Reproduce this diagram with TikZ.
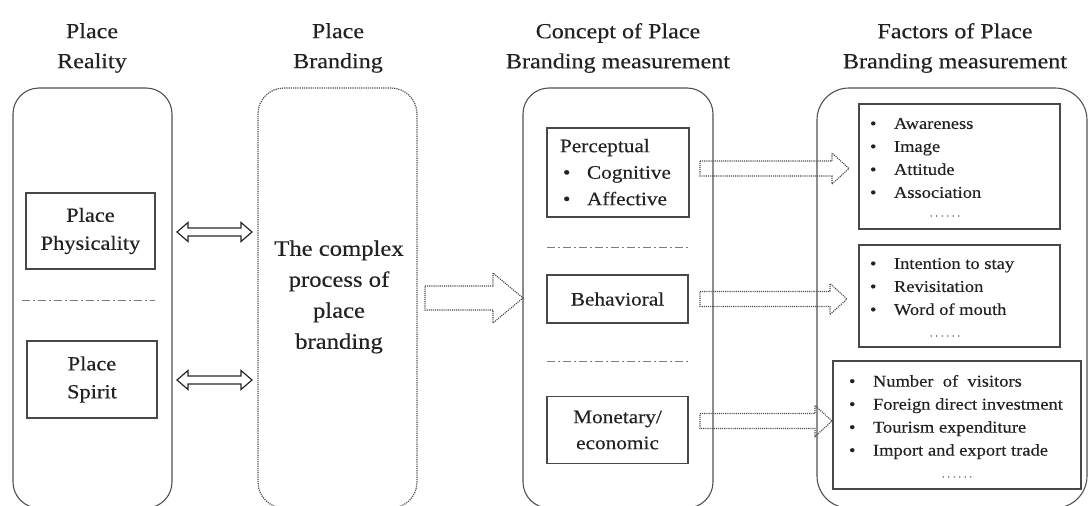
\documentclass[tikz,border=0pt]{standalone}
\usepackage{fontspec}
\setmainfont{Liberation Serif}[FakeStretch=1.12,FakeBold=0.35]
\usetikzlibrary{calc,arrows.meta}
\definecolor{ln}{HTML}{505050}
\definecolor{tx}{HTML}{222222}
\tikzset{
  x=1pt,y=-1pt,
  every node/.style={text=tx,inner sep=0pt,outer sep=0pt},
  bigbox/.style={draw=ln,line width=1.1pt,rounded corners=26pt,minimum width=#1,minimum height=420},
  inbox/.style={draw=ln!90!black,line width=1.2pt,minimum width=#1},
  ttl/.style={align=center,font=\fontsize{21.5}{30}\selectfont},
  sep/.style={draw=ln!75,line width=0.9pt,dash pattern=on 8pt off 3pt on 2pt off 3pt},
  dblarrow/.style={draw=black!85,line width=1.2pt,line join=miter},
  dotarrow/.style={draw=ln!90!black,line width=1.1pt,densely dotted},
  lst/.style={align=left,font=\fontsize{16.5}{23}\selectfont},
  dts/.style={font=\fontsize{9}{9}\selectfont,text=ln},
}
\newcommand{\bl}{\makebox[24pt][l]{\textbullet}}
\newcommand{\sdots}{.\,\,.\,\,.\,\,.\,\,.\,\,.}
\begin{document}
\begin{tikzpicture}
\useasboundingbox (0,0) rectangle (1088,506);
% titles
\node[ttl] (t1) at (92,48) {Place\\Reality};
\node[ttl] (t2) at (338,48) {Place\\Branding};
\node[ttl] (t3) at (618,48) {Concept of Place\\Branding measurement};
\node[ttl] (t4) at (955,48) {Factors of Place\\Branding measurement};
% big boxes
\node[bigbox=159] (pr) at (92.5,298) {};
\node[bigbox=159,draw=ln,line width=1.2pt,densely dotted] (pb) at (337.5,298) {};
\node[bigbox=190] (cp) at (618,298) {};
\node[bigbox=270,rounded corners=32pt] (fa) at (952,298) {};
% place reality inner
\node[inbox=129,minimum height=76,align=center,font=\fontsize{20}{28}\selectfont] (phys) at (90.5,231) {Place\\Physicality};
\draw[sep] (22,300) -- (155,300);
\node[inbox=130,minimum height=77,align=center,font=\fontsize{20}{28}\selectfont] (spirit) at (92,379.5) {Place\\Spirit};
% place branding text
\node[align=center,font=\fontsize{22}{31}\selectfont] (cpx) at (339,297) {The complex\\process of\\place\\branding};
% double block arrows
\newcommand{\dblock}[5]{% start, end, shaft half, head half, head length
  \draw[dblarrow] let \p1=(#1), \p2=(#2) in
    (\x1,\y1) -- (\x1+#5pt,\y1+#4pt) -- (\x1+#5pt,\y1+#3pt) -- (\x2-#5pt,\y1+#3pt) -- (\x2-#5pt,\y1+#4pt) -- (\x2,\y1) --
    (\x2-#5pt,\y1-#4pt) -- (\x2-#5pt,\y1-#3pt) -- (\x1+#5pt,\y1-#3pt) -- (\x1+#5pt,\y1-#4pt) -- cycle;}
\coordinate (d1a) at ($(pr.east |- phys.east)+(5,1)$);
\coordinate (d1b) at ($(pb.west |- phys.east)+(-6,1)$);
\dblock{d1a}{d1b}{4}{9.5}{11}
\coordinate (d2a) at ($(pr.east |- spirit.east)+(5,0.5)$);
\coordinate (d2b) at ($(pb.west |- spirit.east)+(-6,0.5)$);
\dblock{d2a}{d2b}{4}{9.5}{11}
% concept inner
\node[inbox=142,minimum height=89] (perc) at (618,172.5) {};
\node[lst,font=\fontsize{19}{26.5}\selectfont,anchor=north west] (perct) at (560,139) {Perceptual\\\makebox[27pt][l]{\hspace{3pt}\textbullet}Cognitive\\\makebox[27pt][l]{\hspace{3pt}\textbullet}Affective};
\draw[sep] (547,247) -- (688,247);
\node[inbox=141,minimum height=48,font=\fontsize{19}{26}\selectfont] (beh) at (617.5,299) {Behavioral};
\draw[sep] (547,361) -- (689,361);
\node[inbox=141,minimum height=67,align=center,font=\fontsize{19}{26}\selectfont] (mon) at (617.5,430) {Monetary/\\economic};
% factor boxes
\node[inbox=201,minimum height=125] (f1) at (959.5,166.5) {};
\node[lst,anchor=north west] (f1t) at (870,118) {\bl Awareness\\\bl Image\\\bl Attitude\\\bl Association};
\node[dts] (f1d) at (945,216) {\sdots};
\node[inbox=201,minimum height=102] (f2) at (959.5,296) {};
\node[lst,anchor=north west] (f2t) at (870,258) {\bl Intention to stay\\\bl Revisitation\\\bl Word of mouth};
\node[dts] (f2d) at (945,336) {\sdots};
\node[inbox=248,minimum height=128] (f3) at (957,425) {};
\node[lst,anchor=north west] (f3t) at (849,375) {\bl Number\ \ of\ \ visitors\\\bl Foreign direct investment\\\bl Tourism expenditure\\\bl Import and export trade};
\node[dts] (f3d) at (957,477) {\sdots};
% dotted block arrows
\newcommand{\blockarrow}[5]{% start, end, shaft half, head half, head length
  \draw[dotarrow] let \p1=(#1), \p2=(#2) in
    (\x1,\y1+#3pt) -- (\x2-#5pt,\y1+#3pt) -- (\x2-#5pt,\y1+#4pt) -- (\x2,\y1) --
    (\x2-#5pt,\y1-#4pt) -- (\x2-#5pt,\y1-#3pt) -- (\x1,\y1-#3pt) -- cycle;}
\coordinate (a0s) at ($(pb.east)+(8,0)$);
\coordinate (a0e) at ($(cp.west)+(0,0)$);
\blockarrow{a0s}{a0e}{12}{25}{30}
\coordinate (a1s) at ($(perc.east)+(11,-4)$);
\coordinate (a1e) at ($(f1.west)+(-10,-1)$);
\blockarrow{a1s}{a1e}{7.5}{15.5}{17}
\coordinate (a2s) at (a1s |- beh.east);
\coordinate (a2e) at ($(f2.west |- beh.east)+(-12,0)$);
\blockarrow{a2s}{a2e}{7.5}{15.5}{17}
\coordinate (a3s) at ($(a1s |- mon.east)+(0,-9)$);
\coordinate (a3e) at ($(f3.west |- a3s)+(-1,0)$);
\blockarrow{a3s}{a3e}{7.5}{15.5}{17}
\end{tikzpicture}
\end{document}
